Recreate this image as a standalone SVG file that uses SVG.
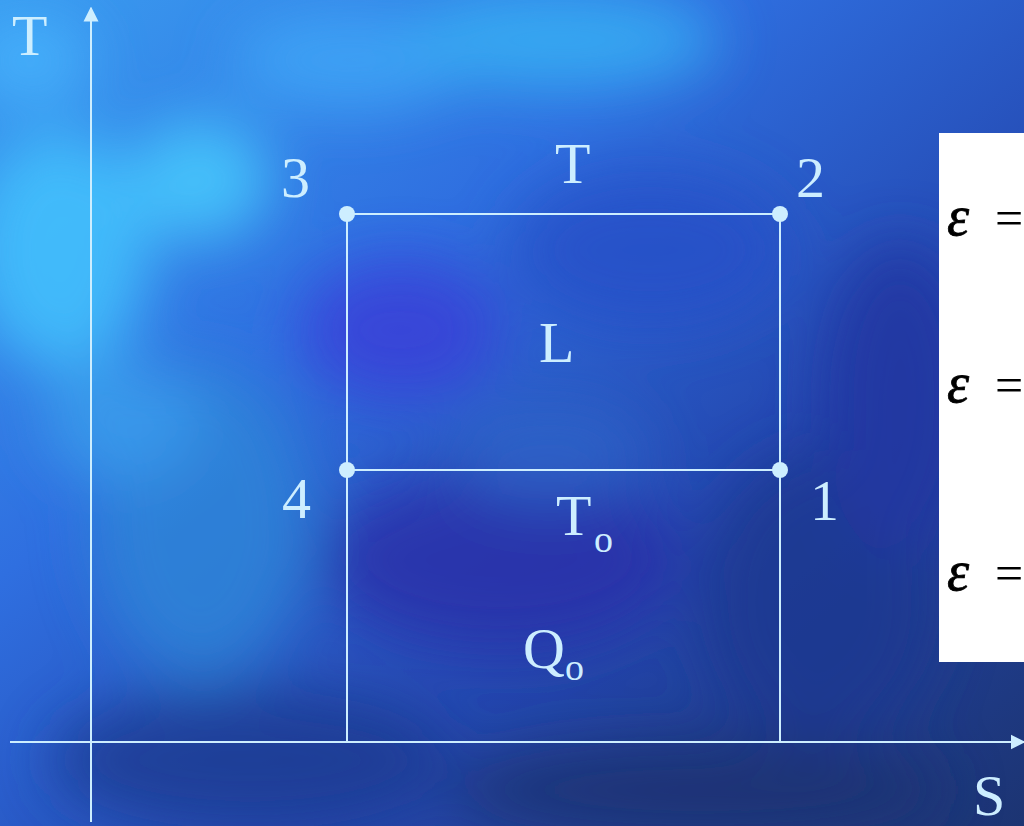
<svg xmlns="http://www.w3.org/2000/svg" width="1024" height="826" viewBox="0 0 1024 826">
<defs>
<linearGradient id="bg" x1="0" y1="0" x2="1" y2="1">
<stop offset="0" stop-color="#3a9cf0"/>
<stop offset="0.35" stop-color="#2f6fe0"/>
<stop offset="0.65" stop-color="#2448b0"/>
<stop offset="1" stop-color="#1c3472"/>
</linearGradient>
<filter id="blur" x="-50%" y="-50%" width="200%" height="200%"><feGaussianBlur stdDeviation="30"/></filter>
<marker id="arr" viewBox="0 0 10 10" refX="9" refY="5" markerWidth="15" markerHeight="17" markerUnits="userSpaceOnUse" orient="auto">
<path d="M0,0 L10,5 L0,10 z" fill="#cdeeff"/>
</marker>
<style>
.ln{stroke:#cdeeff;stroke-width:2;fill:none}
.dot{fill:#cdeeff}
.lb{font-family:"Liberation Serif","Times New Roman",serif;fill:#cdeeff;font-size:58px}
.sub{font-family:"Liberation Serif","Times New Roman",serif;fill:#cdeeff;font-size:38px}
.eq{font-family:"Liberation Serif","Times New Roman",serif;fill:#000;font-size:50px}
.eps{font-size:56px;font-style:italic;stroke:#000;stroke-width:0.8}
</style>
</defs>
<g id="background">
<rect width="1024" height="826" fill="url(#bg)"/>
<g filter="url(#blur)" opacity="0.8">
<ellipse cx="60" cy="250" rx="90" ry="120" fill="#45c8ff"/>
<ellipse cx="200" cy="180" rx="70" ry="60" fill="#48d0ff"/>
<ellipse cx="350" cy="60" rx="120" ry="50" fill="#3fa8f8"/>
<ellipse cx="560" cy="40" rx="160" ry="50" fill="#38b4f5"/>
<ellipse cx="200" cy="520" rx="110" ry="160" fill="#2f86d8"/>
<ellipse cx="400" cy="330" rx="100" ry="70" fill="#3a3cd8"/>
<ellipse cx="650" cy="250" rx="140" ry="80" fill="#2550c8"/>
<ellipse cx="500" cy="560" rx="180" ry="90" fill="#2a2ea8"/>
<ellipse cx="820" cy="600" rx="120" ry="150" fill="#1d3890"/>
<ellipse cx="900" cy="400" rx="80" ry="160" fill="#2234a0"/>
<ellipse cx="250" cy="760" rx="200" ry="70" fill="#1f3a90"/>
<ellipse cx="700" cy="790" rx="250" ry="50" fill="#1a3070"/>
<ellipse cx="120" cy="420" rx="80" ry="60" fill="#3aa0ec"/>
<ellipse cx="550" cy="450" rx="100" ry="50" fill="#2e64c8"/>
<ellipse cx="30" cy="60" rx="60" ry="40" fill="#48b8ff"/>
</g>
</g>
<g id="connectors">
<line class="ln" x1="91" y1="822" x2="91" y2="8" marker-end="url(#arr)"/>
<line class="ln" x1="10" y1="742" x2="1024" y2="742" marker-end="url(#arr)"/>
<line class="ln" x1="347" y1="214" x2="780" y2="214"/>
<line class="ln" x1="347" y1="470" x2="780" y2="470"/>
<line class="ln" x1="347" y1="214" x2="347" y2="742"/>
<line class="ln" x1="780" y1="214" x2="780" y2="742"/>
</g>
<g id="p3"><circle class="dot" cx="347" cy="214" r="8"/><text class="lb" x="281" y="197">3</text></g>
<g id="p2"><circle class="dot" cx="780" cy="214" r="8"/><text class="lb" x="796" y="197">2</text></g>
<g id="p4"><circle class="dot" cx="347" cy="470" r="8"/><text class="lb" x="282" y="518">4</text></g>
<g id="p1"><circle class="dot" cx="780" cy="470" r="8"/><text class="lb" x="810" y="520">1</text></g>
<g id="labels">
<text class="lb" x="12" y="55">T</text>
<text class="lb" x="555" y="183">T</text>
<text class="lb" x="539" y="362">L</text>
<text class="lb" x="556" y="535">T<tspan class="sub" x="594" dy="17">o</tspan></text>
<text class="lb" x="523" y="668">Q<tspan class="sub" dy="12">o</tspan></text>
<text class="lb" x="973" y="815" font-size="42">S</text>
</g>
<g id="formula">
<rect x="939" y="133" width="90" height="529" fill="#ffffff"/>
<text class="eq" x="947" y="235"><tspan class="eps">ε</tspan><tspan x="995">=</tspan></text>
<text class="eq" x="947" y="402"><tspan class="eps">ε</tspan><tspan x="995">=</tspan></text>
<text class="eq" x="947" y="590"><tspan class="eps">ε</tspan><tspan x="995">=</tspan></text>
</g>
</svg>
